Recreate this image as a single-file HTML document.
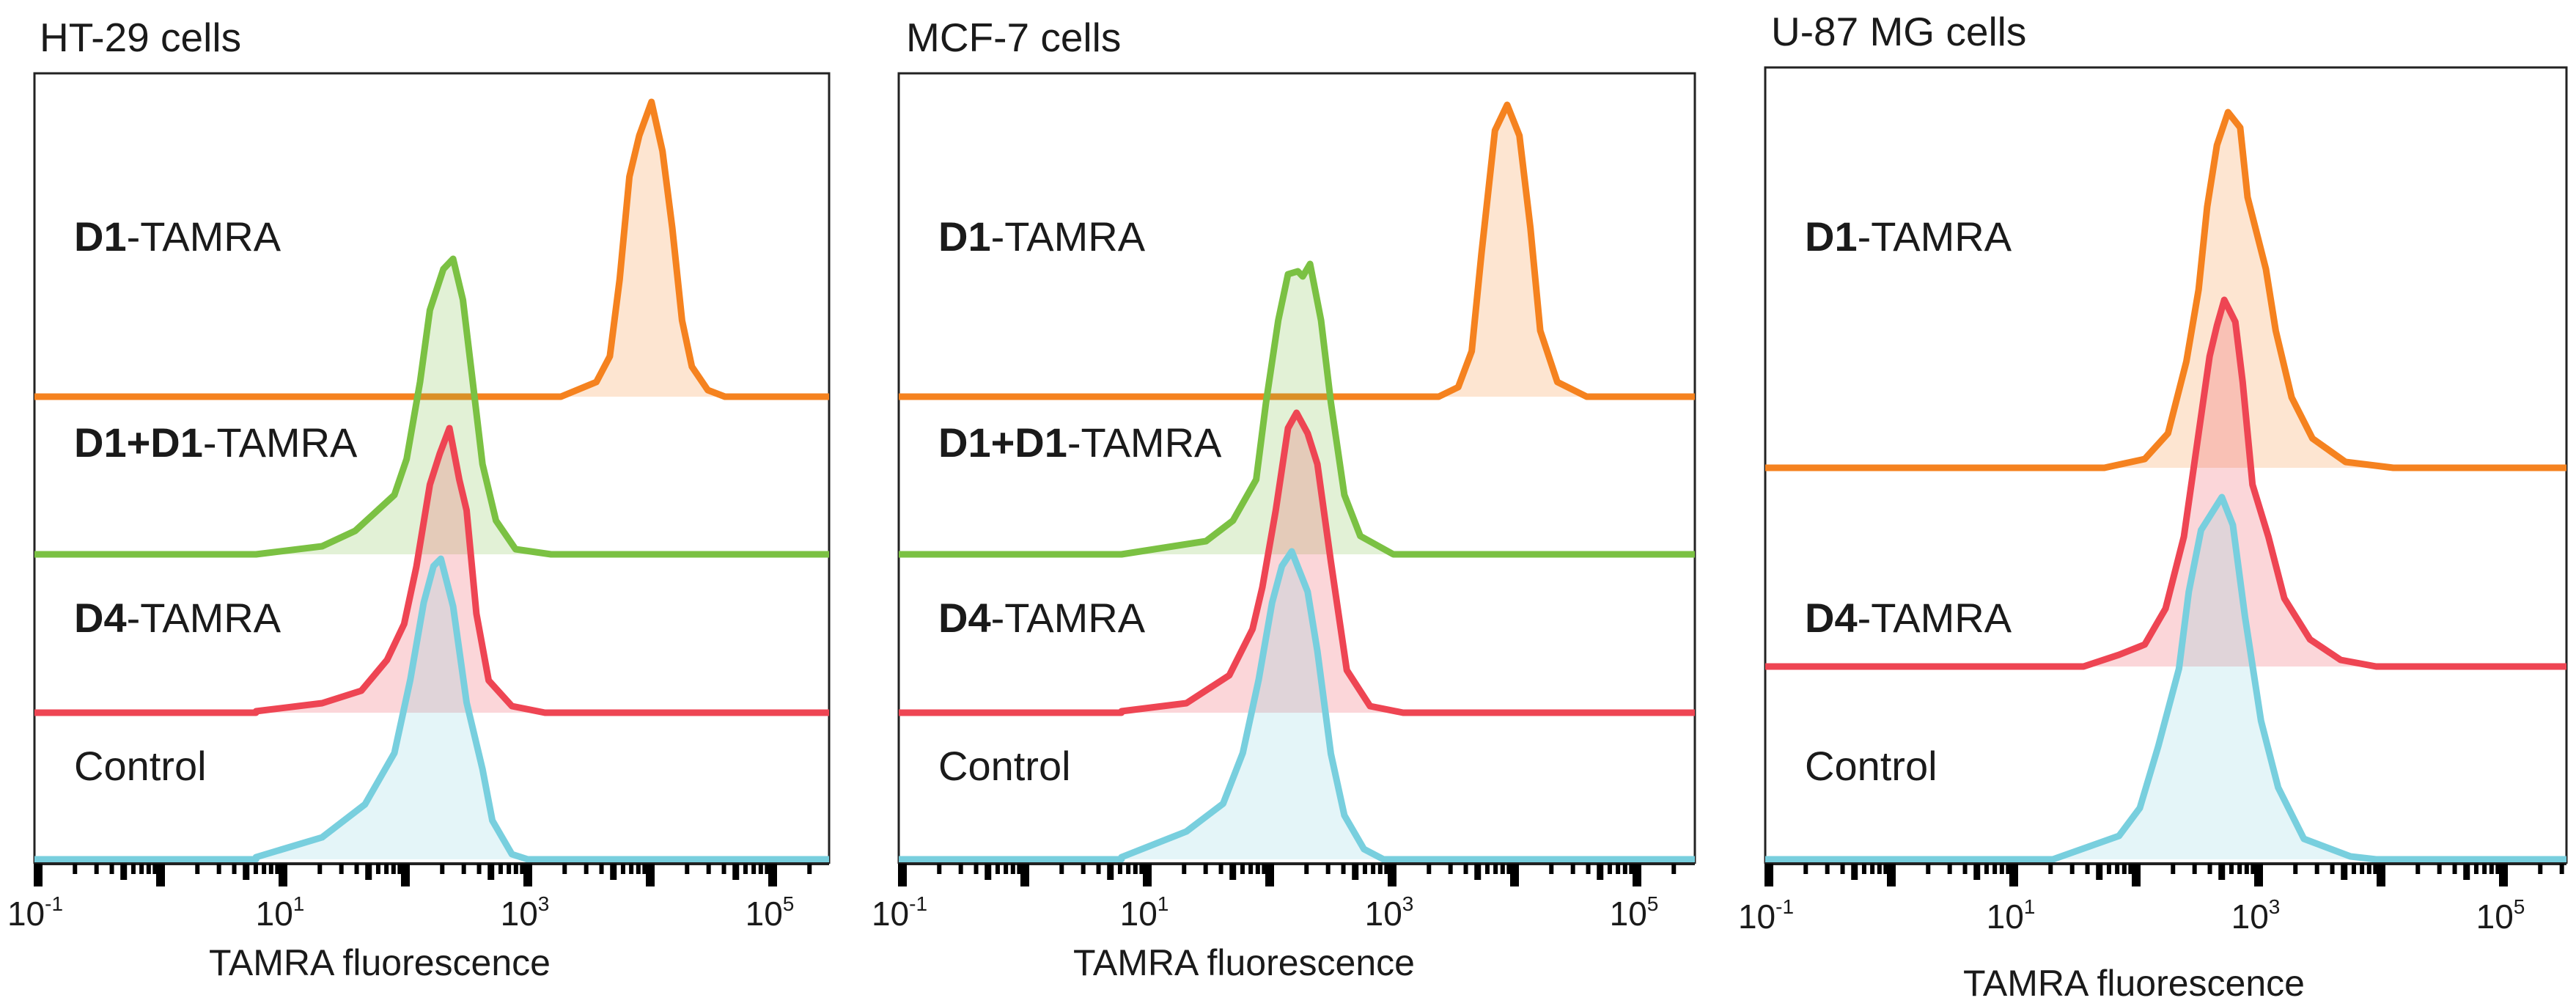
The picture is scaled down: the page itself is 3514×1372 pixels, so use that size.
<!DOCTYPE html>
<html><head><meta charset="utf-8"><style>
html,body{margin:0;padding:0;background:#fff}
svg{display:block}
text{font-family:"Liberation Sans",Arial,sans-serif;fill:#1a1a1a}
</style></head><body>
<svg id="chart" width="3514" height="1372" viewBox="0 0 3514 1372" xmlns="http://www.w3.org/2000/svg"></svg>
<script>
// ---- data (x in log10 units of TAMRA fluorescence, y in event counts) ----
const tickDecades = [-1, 1, 3, 5];
const panelTitles = ["HT-29 cells", "MCF-7 cells", "U-87 MG cells"];

const p1OrangeX = [3.27,3.56,3.67,3.75,3.83,3.91,4.01,4.1,4.18,4.26,4.34,4.47,4.61];
const p1OrangeY = [0,20,55,160,300,356,402,335,230,104,41,9,0];
const p1GreenX = [0.78,1.32,1.59,1.91,2.01,2.12,2.2,2.31,2.39,2.47,2.55,2.63,2.74,2.9,3.19];
const p1GreenY = [0,11,32,81,130,235,333,389,403,347,235,123,46,7,0];
const p1RedX = [0.78,1.32,1.64,1.85,1.99,2.09,2.2,2.28,2.36,2.44,2.5,2.58,2.68,2.87,3.14];
const p1RedY = [2,13,30,72,121,199,311,353,388,318,276,135,44,9,0];
const p1CyanX = [0.78,1.32,1.67,1.91,2.04,2.15,2.23,2.29,2.39,2.5,2.63,2.71,2.87,3.0];
const p1CyanY = [3,30,75,145,245,350,400,410,345,214,123,53,7,0];

const p2OrangeX = [3.38,3.54,3.65,3.73,3.84,3.94,4.04,4.13,4.21,4.35,4.59];
const p2OrangeY = [0,13,62,195,363,398,356,230,90,20,0];
const p2GreenX = [0.79,1.48,1.7,1.89,1.97,2.07,2.15,2.23,2.27,2.33,2.42,2.5,2.61,2.74,3.01];
const p2GreenY = [0,18,46,102,207,319,382,386,379,396,319,207,81,25,0];
const p2RedX = [0.79,1.32,1.67,1.86,1.94,2.05,2.15,2.22,2.31,2.39,2.5,2.63,2.82,3.09];
const p2RedY = [2,13,51,114,171,276,388,409,381,339,206,58,9,0];
const p2CyanX = [0.79,1.32,1.62,1.78,1.91,2.02,2.1,2.18,2.31,2.39,2.5,2.61,2.77,2.93];
const p2CyanY = [3,38,76,145,245,350,400,420,365,284,144,60,14,0];

const p3OrangeX = [1.74,2.07,2.26,2.41,2.51,2.58,2.66,2.75,2.85,2.91,3.06,3.14,3.27,3.44,3.71,4.1];
const p3OrangeY = [0,12,47,145,243,356,440,485,464,369,271,187,96,40,8,0];
const p3RedX = [1.57,1.86,2.07,2.24,2.39,2.51,2.6,2.66,2.72,2.81,2.87,2.95,3.08,3.21,3.42,3.67,3.96];
const p3RedY = [0,16,30,79,177,318,423,465,500,470,388,248,177,93,37,9,0];
const p3CyanX = [1.32,1.86,2.03,2.18,2.35,2.43,2.53,2.7,2.79,2.89,3.02,3.16,3.37,3.75,3.96];
const p3CyanY = [0,32,70,154,260,365,449,494,456,330,189,98,28,4,0];

// ---- layout ----
const COLORS = {orange:"#f5821f", green:"#7bc143", red:"#ee4553", cyan:"#78cfde"};
const FILLS = {orange:"rgba(248,150,70,0.25)", green:"rgba(125,193,67,0.22)", red:"rgba(238,69,83,0.22)", cyan:"rgba(120,207,222,0.2)"};
const panels = [
  {left:47, right:1131, top:100, axisY:1178, x0:52, titleX:54, titleY:70, tickLabY:1262, axTitleY:1330, axTitleX:518,
   series:[["orange",p1OrangeX,p1OrangeY,541],["green",p1GreenX,p1GreenY,756],["red",p1RedX,p1RedY,972],["cyan",p1CyanX,p1CyanY,1172]],
   labels:[["D1","-TAMRA",342],["D1+D1","-TAMRA",623],["D4","-TAMRA",862],["","Control",1064]]},
  {left:1226, right:2312, top:100, axisY:1178, x0:1231, titleX:1236, titleY:70, tickLabY:1262, axTitleY:1330, axTitleX:1697,
   series:[["orange",p2OrangeX,p2OrangeY,541],["green",p2GreenX,p2GreenY,756],["red",p2RedX,p2RedY,972],["cyan",p2CyanX,p2CyanY,1172]],
   labels:[["D1","-TAMRA",342],["D1+D1","-TAMRA",623],["D4","-TAMRA",862],["","Control",1064]]},
  {left:2408, right:3501, top:92, axisY:1178, x0:2413, titleX:2416, titleY:62, tickLabY:1266, axTitleY:1358, axTitleX:2911,
   series:[["orange",p3OrangeX,p3OrangeY,638],["red",p3RedX,p3RedY,909],["cyan",p3CyanX,p3CyanY,1172]],
   labels:[["D1","-TAMRA",342],["D4","-TAMRA",862],["","Control",1064]]}
];
const DEC = 167;
const NS = "http://www.w3.org/2000/svg";
const svg = document.getElementById("chart");
function mk(tag, attrs, parent){const e=document.createElementNS(NS,tag);for(const k in attrs)e.setAttribute(k,attrs[k]);(parent||svg).appendChild(e);return e;}

panels.forEach((p, pi) => {
  const g = mk("g", {});
  
  
  const xs = v => p.x0 + (v + 1) * DEC;
  const ys = (c, base) => base - c;

  const t = mk("text", {x:p.titleX, y:p.titleY, "font-size":55}, g);
  t.textContent = panelTitles[pi];
  
  

  const fr = mk("path", {d:`M${p.left},${p.axisY} L${p.left},${p.top} L${p.right},${p.top} L${p.right},${p.axisY}`, fill:"none", stroke:"#222", "stroke-width":3}, g);
  
  

  p.series.forEach(([col, X, Y, base]) => {
    const x0 = Math.max(xs(X[0]), p.left);
    let d = `M${p.left},${base} L${x0.toFixed(1)},${base}`;
    for (let i = 0; i < X.length; i++) d += ` L${Math.max(xs(X[i]),p.left).toFixed(1)},${ys(Y[i], base).toFixed(1)}`;
    d += ` L${p.right},${base}`;
    let fd = `M${x0.toFixed(1)},${base}`;
    for (let i = 0; i < X.length; i++) fd += ` L${Math.max(xs(X[i]),p.left).toFixed(1)},${ys(Y[i], base).toFixed(1)}`;
    fd += " Z";
    const f = mk("path", {d:fd, fill:FILLS[col], stroke:"none"}, g);
    
    
    const l = mk("path", {d:d, fill:"none", stroke:COLORS[col], "stroke-width":9, "stroke-linejoin":"round"}, g);
    
    
  });

  p.labels.forEach(([b, rest, y]) => {
    const tx = mk("text", {x:p.left + 54, y:y, "font-size":56}, g);
    if (b) { const s = mk("tspan", {"font-weight":"bold"}, tx); s.textContent = b; }
    const r = mk("tspan", {}, tx); r.textContent = rest;
    
    
  });

  const ax = mk("line", {x1:p.left, y1:p.axisY, x2:p.right, y2:p.axisY, stroke:"#222", "stroke-width":4}, g);
  
  

  for (let d = -1; d <= 6; d++) {
    for (let m = 1; m <= 9; m++) {
      const v = d + Math.log10(m);
      const x = xs(v);
      if (x > p.right - 4) continue;
      const len = m === 1 ? 31 : (m === 5 ? 22 : 14);
      const w = m === 1 ? 12 : (m === 5 ? 9 : 6);
      const tk = mk("rect", {x:x - w/2, y:p.axisY, width:w, height:len, fill:"#000"}, g);
      
      
    }
  }
  tickDecades.forEach(dd => {
    const lab = mk("text", {x:xs(dd) - 4, y:p.tickLabY, "font-size":46, "text-anchor":"middle"}, g);
    const a = mk("tspan", {}, lab); a.textContent = "10";
    const s = mk("tspan", {"font-size":28, dy:-20}, lab); s.textContent = String(dd);
    
    
  });
  const at = mk("text", {x:p.axTitleX, y:p.axTitleY, "font-size":50, "text-anchor":"middle"}, g);
  at.textContent = "TAMRA fluorescence";
  
  
});
</script>
</body></html>
